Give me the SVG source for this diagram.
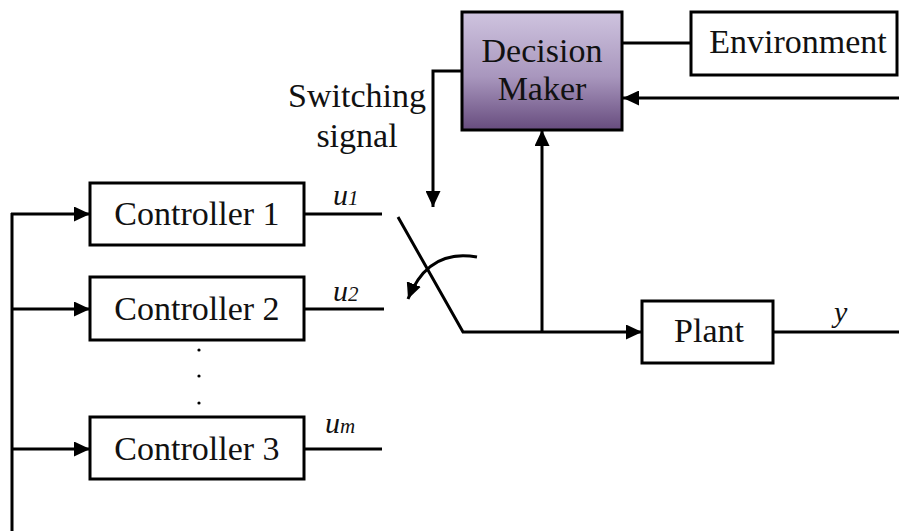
<svg xmlns="http://www.w3.org/2000/svg" width="899" height="531" viewBox="0 0 899 531">
<defs>
<linearGradient id="dm" x1="0" y1="0" x2="0" y2="1">
<stop offset="0" stop-color="#cfc4df"/>
<stop offset="0.55" stop-color="#a896bd"/>
<stop offset="1" stop-color="#674c7e"/>
</linearGradient>
<marker id="ah" markerUnits="userSpaceOnUse" markerWidth="17" markerHeight="15" refX="16" refY="7.5" orient="auto">
<path d="M0,0 L16,7.5 L0,15 z" fill="#000"/>
</marker>
<style>
.box{fill:#fff;stroke:#000;stroke-width:3}
.t{font-family:"Liberation Serif","Times New Roman",serif;font-size:34px;fill:#111;text-anchor:middle}
.m{font-family:"Liberation Serif","Times New Roman",serif;font-style:italic;fill:#111}
.ln{fill:none;stroke:#000;stroke-width:3}
.arr{fill:none;stroke:#000;stroke-width:3;marker-end:url(#ah)}
</style>
</defs>
<rect width="899" height="531" fill="#fff"/>
<g id="connectors">
<path class="ln" d="M622,43 H691"/>
<path class="arr" d="M899,98 H623"/>
<path class="arr" d="M462,71 H433 V207"/>
<path class="ln" d="M12,531 V213"/>
<path class="arr" d="M11,214 H90"/>
<path class="arr" d="M12,309 H90"/>
<path class="arr" d="M12,449 H90"/>
<path class="ln" d="M304,214 H382"/>
<path class="ln" d="M304,309 H384"/>
<path class="ln" d="M304,449 H382"/>
<path class="ln" d="M398,217 L463,332 H542"/>
<path class="arr" d="M542,332 H642"/>
<path class="arr" d="M542,332 V130"/>
<path class="arr" d="M477,257 Q428,248 408,299"/>
<path class="ln" d="M773,332 H899"/>
</g>
<g id="decision-maker">
<rect x="462" y="12" width="160" height="118" fill="url(#dm)" stroke="#000" stroke-width="3"/>
<text class="t" x="542" y="62">Decision</text>
<text class="t" x="542" y="100">Maker</text>
</g>
<g id="environment">
<rect class="box" x="691" y="12" width="206" height="63"/>
<text class="t" x="798" y="53">Environment</text>
</g>
<g id="switching-label">
<text class="t" x="357" y="107">Switching</text>
<text class="t" x="357" y="147">signal</text>
</g>
<g id="controller-1">
<rect class="box" x="90" y="183" width="214" height="62"/>
<text class="t" x="197" y="225">Controller 1</text>
</g>
<g id="controller-2">
<rect class="box" x="90" y="277" width="214" height="63"/>
<text class="t" x="197" y="320">Controller 2</text>
</g>
<g id="controller-3">
<rect class="box" x="90" y="417" width="214" height="62"/>
<text class="t" x="197" y="460">Controller 3</text>
</g>
<g id="dots" fill="#000">
<circle cx="199" cy="350" r="1.6"/>
<circle cx="199" cy="376" r="1.6"/>
<circle cx="199" cy="403" r="1.6"/>
</g>
<g id="plant">
<rect class="box" x="642" y="301" width="131" height="62"/>
<text class="t" x="709" y="342">Plant</text>
</g>
<g id="labels">
<text class="m" x="333" y="205" font-size="30">u<tspan font-size="21">1</tspan></text>
<text class="m" x="333" y="301" font-size="30">u<tspan font-size="21">2</tspan></text>
<text class="m" x="325" y="433" font-size="30">u<tspan font-size="21">m</tspan></text>
<text class="m" x="834" y="322" font-size="30">y</text>
</g>
</svg>
